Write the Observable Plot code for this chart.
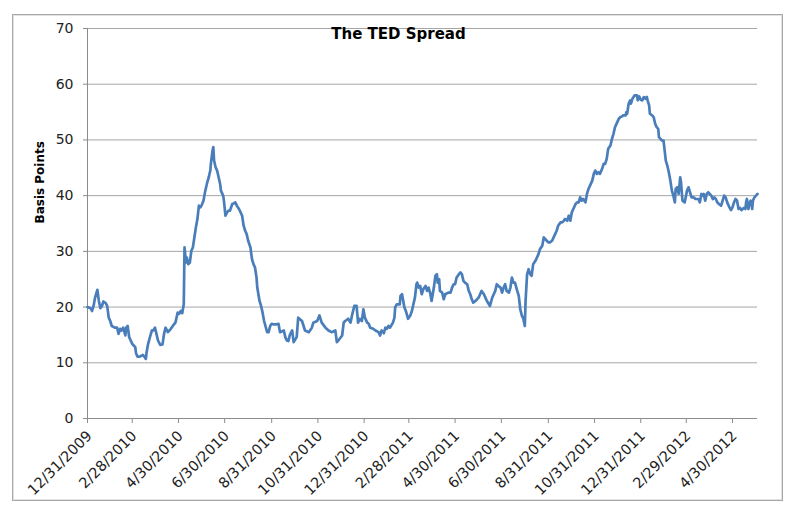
<!DOCTYPE html>
<html>
<head>
<meta charset="utf-8">
<script src="https://cdn.jsdelivr.net/npm/d3@7"></script>
<script src="https://cdn.jsdelivr.net/npm/@observablehq/plot@0.6"></script>
<style>
  body { margin: 0; background: #fff; }
  #wrap { position: relative; width: 805px; height: 531px; }
  #wrap svg { position: absolute; left: 0; top: 0; }
  #border { position: absolute; left: 12px; top: 14px; width: 769px; height: 485px;
            border: 1px solid #a8a8a8; box-shadow: inset 0 0 0 1px #e2e2e2; }
</style>
</head>
<body>
<div id="wrap"><div id="border"></div></div>
<script>
// Days since 12/31/2009 (business-day samples)
const startDate = "12/31/2009";
const dayOffsets = [0,4,6,8,10,13,15,17,19,21,24,26,28,30,32,36,39,41,43,45,47,50,51,53,55,57,59,61,63,64,66,69,73,75,77,78,80,83,85,87,89,91,93,96,99,101,103,106,108,110,113,116,119,121,123,125,127,128,130,131,133,135,137,139,141,143,145,147,149,151,153,155,158,160,162,163,165,166,167,169,171,173,175,176,179,180,182,184,186,188,191,193,195,197,199,201,204,206,208,210,212,215,217,219,221,223,224,227,229,231,233,237,239,241,243,245,249,252,254,259,261,263,265,267,270,272,276,278,283,287,292,296,298,303,306,309,314,318,322,327,329,331,336,338,340,344,347,349,352,355,357,359,362,364,366,369,371,373,377,380,384,386,388,391,393,395,397,399,403,405,406,408,412,413,415,418,420,423,426,428,430,432,434,435,437,439,441,443,446,448,450,452,454,457,459,461,462,464,465,468,470,472,476,479,481,483,485,487,490,492,494,496,498,501,503,505,507,509,512,516,518,520,523,525,527,531,534,536,538,540,542,545,547,549,551,553,556,558,560,562,564,567,569,571,573,575,577,578,580,582,584,586,588,591,593,595,597,600,602,604,606,608,610,613,615,617,619,621,624,626,628,630,633,635,637,639,641,644,646,648,650,652,654,657,659,661,663,666,668,670,672,674,676,679,681,683,685,687,690,692,694,696,699,701,703,705,707,710,711,712,714,716,717,719,722,725,726,728,730,732,734,736,738,739,741,742,745,747,749,751,753,754,756,758,760,762,763,765,767,769,771,773,775,776,778,780,782,783,785,788,791,793,795,797,800,802,804,806,808,810,811,813,815,817,819,821,823,825,827,829,831,833,836,838,840,842,844,847,849,851,853,855,857,859,861,863,866,868,869,870,872,873,875,877,878,880,882,884];
const tedValues = [20.0,19.8,19.3,20.2,21.7,23.1,21.1,19.8,20.2,21.0,20.7,20.2,18.1,17.5,16.6,16.3,16.3,15.2,16.1,15.8,16.3,14.9,16.3,16.6,14.6,14.0,13.4,13.1,12.8,11.7,11.1,11.1,11.4,11.1,10.7,11.9,13.4,14.9,15.8,15.8,16.3,15.2,14.0,13.2,13.3,15.2,16.3,15.5,15.8,16.1,16.7,17.2,19.0,18.8,19.3,18.9,20.5,30.7,28.0,28.9,27.7,28.0,30.1,30.7,32.5,34.3,35.8,38.2,37.9,38.4,39.1,40.6,42.4,43.3,44.5,46.0,48.1,48.7,46.3,45.1,44.5,43.3,42.1,40.9,40.0,39.1,36.4,37.0,37.3,37.3,38.5,38.6,38.8,38.2,37.8,37.3,36.4,34.6,33.7,33.1,31.9,30.7,28.6,27.7,27.1,25.3,23.5,21.1,20.2,19.0,17.5,15.5,15.5,16.6,17.0,16.9,16.9,17.0,15.5,15.8,14.6,14.0,13.9,15.0,15.8,13.7,14.6,18.1,17.5,15.8,15.5,16.3,17.2,17.5,18.5,17.2,16.3,15.8,15.5,15.8,13.7,14.0,14.9,17.2,17.5,17.9,17.2,18.5,20.2,20.2,17.2,17.9,17.5,19.6,18.1,17.2,17.0,16.3,16.1,15.8,15.5,14.9,15.8,15.3,16.3,16.1,16.6,16.3,17.2,18.1,20.0,20.5,20.5,22.0,22.3,20.0,19.3,17.9,18.5,19.3,20.5,21.7,24.1,24.4,23.5,23.8,22.3,23.2,23.8,22.9,23.5,22.6,21.1,23.5,25.6,25.9,24.4,25.0,22.9,22.6,21.4,22.3,22.6,22.6,23.5,24.1,24.1,25.3,25.9,26.2,25.9,24.7,24.4,24.1,22.9,22.3,21.4,20.8,21.1,21.7,22.3,22.9,22.3,21.7,21.1,20.2,21.7,22.3,22.9,24.1,23.8,23.5,22.6,23.5,24.1,22.9,22.6,23.5,25.3,24.4,24.4,22.9,22.0,19.6,18.5,17.9,16.6,21.1,25.9,26.8,25.9,25.6,27.7,28.3,28.9,29.5,30.4,31.0,32.5,32.2,31.9,31.6,31.6,31.9,32.5,33.1,33.7,34.6,35.2,35.2,35.4,35.8,35.5,36.4,35.5,37.0,37.6,38.5,38.8,38.8,39.7,39.1,39.4,38.8,40.3,41.2,41.8,42.7,43.9,44.5,43.9,44.2,43.9,44.8,45.7,45.7,46.6,48.4,49.0,50.2,51.1,52.3,53.2,53.8,54.1,54.2,54.4,54.4,55.0,54.7,56.5,57.1,56.5,57.4,58.0,58.0,57.1,57.8,57.2,57.1,57.7,57.4,57.7,57.1,56.2,54.7,54.4,54.1,52.9,52.3,52.0,50.5,50.2,49.9,49.9,47.5,46.3,45.4,44.2,42.7,40.9,40.0,38.8,41.2,41.5,40.3,43.3,42.5,39.1,38.8,40.9,41.5,40.6,39.7,39.7,39.4,39.4,39.4,38.8,40.3,40.0,40.3,39.1,40.3,40.6,40.3,40.0,39.4,39.7,39.4,38.8,38.5,38.2,39.1,40.0,39.7,38.8,37.9,37.4,37.9,38.8,39.4,39.1,37.6,37.8,37.4,37.8,37.6,38.8,39.4,37.6,38.5,39.1,37.6,39.1,39.7,40.0,40.3];
const xTickLabels = ["12/31/2009","2/28/2010","4/30/2010","6/30/2010","8/31/2010","10/31/2010","12/31/2010","2/28/2011","4/30/2011","6/30/2011","8/31/2011","10/31/2011","12/31/2011","2/29/2012","4/30/2012"];
const yTicks = [0, 10, 20, 30, 40, 50, 60, 70];
const chartTitle = "The TED Spread";
const yLabel = "Basis Points";

const parse = d3.utcParse("%m/%d/%Y");
const base = parse(startDate);
const data = dayOffsets.map((d, i) => ({date: d3.utcDay.offset(base, d), value: tedValues[i]}));
const xTicks = xTickLabels.map(parse);
const fmt = d => xTickLabels[xTicks.findIndex(t => +t === +d)];

const chart = Plot.plot({
  width: 805,
  height: 531,
  marginLeft: 87,
  marginRight: 48,
  marginTop: 28,
  marginBottom: 113,
  style: {fontFamily: "DejaVu Sans", fontSize: "14px", color: "#000", background: "transparent", overflow: "visible"},
  x: {type: "utc", domain: [base, data[data.length - 1].date]},
  y: {domain: [0, 70]},
  marks: [
    Plot.gridY(yTicks, {stroke: "#a6a6a6", strokeOpacity: 1}),
    Plot.axisY(yTicks, {tickSize: 4, tickPadding: 10, stroke: "#8c8c8c", fill: "#222", label: null, fontSize: 14}),
    Plot.axisX(xTicks, {tickFormat: () => "", tickSize: 5, stroke: "#8c8c8c", label: null}),
    Plot.axisX(xTicks, {tickFormat: fmt, tickRotate: -45, tickSize: 0, tickPadding: 15, dx: 2, fill: "#222", label: null, fontSize: 14.5}),
    Plot.ruleY([0], {stroke: "#8c8c8c"}),
    Plot.ruleX([base], {stroke: "#8c8c8c"}),
    Plot.line(data, {x: "date", y: "value", stroke: "#4a7ebb", strokeWidth: 2.7, curve: "linear"}),
    Plot.text([chartTitle], {frameAnchor: "top", dx: -24, dy: 0, fontWeight: "bold", fontSize: 15, fill: "#000"}),
    Plot.text([yLabel], {frameAnchor: "left", dx: -47, rotate: -90, fontWeight: "bold", fontSize: 12, fill: "#000"})
  ]
});
document.getElementById("wrap").appendChild(chart);
</script>
</body>
</html>
